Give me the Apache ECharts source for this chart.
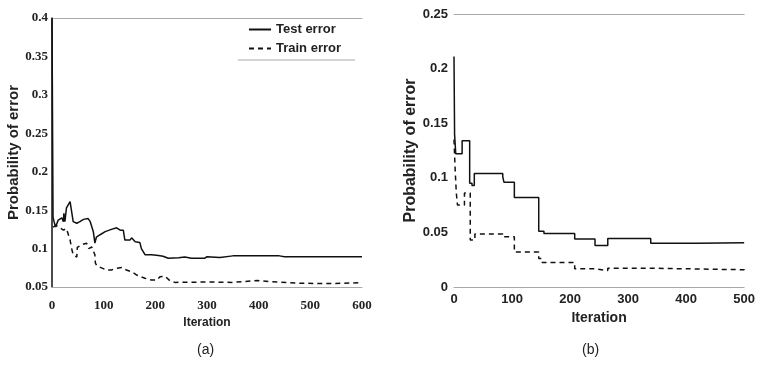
<!DOCTYPE html>
<html>
<head>
<meta charset="utf-8">
<script src="https://cdn.jsdelivr.net/npm/echarts@6/dist/echarts.min.js"></script>
<style>
  html, body { margin: 0; padding: 0; background: #fff; }
  #chart { width: 758px; height: 371px; }
</style>
</head>
<body>
<div id="chart"></div>
<script>
// (a) 左图数据: [iteration, probability]
const testA = [[0, 0.4], [2, 0.141], [4, 0.135], [7, 0.128], [12, 0.137], [19, 0.140], [22, 0.135],
  [23, 0.146], [25, 0.135], [28, 0.153], [35, 0.161], [38, 0.148], [41, 0.135], [48, 0.133],
  [54, 0.135], [61, 0.138], [70, 0.139], [74, 0.135], [80, 0.122], [83, 0.107], [86, 0.115],
  [93, 0.118], [103, 0.122], [115, 0.125], [125, 0.127], [132, 0.124], [138, 0.124], [141, 0.111],
  [151, 0.111], [154, 0.114], [161, 0.109], [170, 0.108], [173, 0.100], [180, 0.092], [193, 0.092],
  [206, 0.091], [215, 0.090], [225, 0.0874], [245, 0.088], [257, 0.089], [270, 0.0875], [296, 0.0875],
  [300, 0.0895], [325, 0.0885], [350, 0.0905], [440, 0.0905], [450, 0.0895], [600, 0.0895]];
const trainA = [[2, 0.128], [8, 0.130], [22, 0.124], [28, 0.126], [31, 0.124], [35, 0.111], [38, 0.100],
  [41, 0.092], [48, 0.089], [49, 0.1015], [57, 0.105], [67, 0.107], [71, 0.100], [77, 0.102],
  [83, 0.092], [84, 0.081], [87, 0.0774], [106, 0.072], [115, 0.0722], [125, 0.0744], [135, 0.0755],
  [144, 0.072], [154, 0.070], [164, 0.0656], [180, 0.0613], [193, 0.059], [203, 0.059], [209, 0.0634],
  [219, 0.064], [228, 0.0582], [238, 0.056], [300, 0.0565], [350, 0.056], [398, 0.0585], [420, 0.057],
  [480, 0.0548], [545, 0.0545], [600, 0.0555]];

// (b) 右图数据 (阶梯)
const testB = [[0, 0.211], [1, 0.14], [3, 0.122], [14, 0.134], [27, 0.095], [31, 0.093], [35, 0.104],
  [84, 0.101], [86, 0.096], [104, 0.082], [146, 0.051], [155, 0.049], [208, 0.044], [243, 0.038],
  [265, 0.0445], [339, 0.040], [420, 0.0405], [500, 0.041]];
const trainB = [[0, 0.135], [2, 0.107], [4, 0.086], [6, 0.075], [18, 0.086], [28, 0.043], [36, 0.0485],
  [84, 0.046], [104, 0.032], [146, 0.026], [152, 0.0225], [208, 0.0168], [243, 0.015], [265, 0.0172],
  [339, 0.0158], [500, 0.0165]];

const seriesNames = ['Test error', 'Train error'];

const serifLabel = { fontFamily: 'Liberation Serif', fontWeight: 'bold', fontSize: 13, color: '#222' };
const sansLabel = { fontFamily: 'Liberation Sans', fontWeight: 'bold', fontSize: 13, color: '#222' };
const nameStyle = { fontFamily: 'Liberation Sans', fontWeight: 'bold', color: '#222' };
const grayLine = { show: true, lineStyle: { color: '#aaa', width: 1 } };
const hidden = { show: false };

const chart = echarts.init(document.getElementById('chart'));

chart.setOption({
  animation: false,
  backgroundColor: '#fff',
  color: ['#111', '#111'],
  grid: [
    { left: 52, top: 18, width: 310, height: 269 },
    { left: 454, top: 14, width: 294, height: 273 },
  ],
  legend: {
    data: seriesNames,
    orient: 'vertical',
    left: 248,
    top: 23,
    padding: 0,
    itemWidth: 22,
    itemHeight: 14,
    itemGap: 6,
    itemStyle: { opacity: 0 },
    textStyle: { fontFamily: 'Liberation Sans', fontWeight: 'bold', fontSize: 13, color: '#222' },
  },
  xAxis: [
    {
      gridIndex: 0, type: 'value', min: 0, max: 600, interval: 100,
      name: 'Iteration', nameLocation: 'middle', nameGap: 29,
      nameTextStyle: { ...nameStyle, fontSize: 12 },
      axisLine: grayLine, axisTick: hidden, splitLine: hidden,
      axisLabel: { ...serifLabel, margin: 12 },
    },
    {
      gridIndex: 0, type: 'value', position: 'top', min: 0, max: 600,
      axisLine: grayLine, axisTick: hidden, splitLine: hidden, axisLabel: hidden,
    },
    {
      gridIndex: 1, type: 'value', min: 0, max: 500, interval: 100,
      name: 'Iteration', nameLocation: 'middle', nameGap: 22,
      nameTextStyle: { ...nameStyle, fontSize: 14 },
      axisLine: grayLine, axisTick: hidden, splitLine: hidden,
      axisLabel: { ...sansLabel, margin: 6 },
    },
    {
      gridIndex: 1, type: 'value', position: 'top', min: 0, max: 500,
      axisLine: grayLine, axisTick: hidden, splitLine: hidden, axisLabel: hidden,
    },
  ],
  yAxis: [
    {
      gridIndex: 0, type: 'value', min: 0.05, max: 0.4, interval: 0.05,
      name: 'Probability of error', nameLocation: 'middle', nameGap: 30,
      nameTextStyle: { ...nameStyle, fontSize: 15 },
      axisLine: { show: true, lineStyle: { color: '#111', width: 1.5 } },
      axisTick: hidden, splitLine: hidden,
      axisLabel: { ...serifLabel, margin: 4 },
    },
    {
      gridIndex: 1, type: 'value', min: 0, max: 0.25, interval: 0.05,
      name: 'Probability of error', nameLocation: 'middle', nameGap: 32,
      nameTextStyle: { ...nameStyle, fontSize: 16 },
      axisLine: hidden, axisTick: hidden, splitLine: hidden,
      axisLabel: { ...sansLabel, margin: 6 },
    },
  ],
  series: [
    {
      name: seriesNames[0], type: 'line', xAxisIndex: 0, yAxisIndex: 0,
      data: testA, symbol: 'none', lineStyle: { color: '#111', width: 1.5 },
    },
    {
      name: seriesNames[1], type: 'line', xAxisIndex: 0, yAxisIndex: 0,
      data: trainA, symbol: 'none', lineStyle: { color: '#111', width: 1.5, type: [5, 4] },
    },
    {
      name: seriesNames[0], type: 'line', xAxisIndex: 2, yAxisIndex: 1, step: 'end',
      data: testB, symbol: 'none', lineStyle: { color: '#111', width: 1.5 },
    },
    {
      name: seriesNames[1], type: 'line', xAxisIndex: 2, yAxisIndex: 1, step: 'end',
      data: trainB, symbol: 'none', lineStyle: { color: '#111', width: 1.5, type: [5, 4] },
    },
  ],
  graphic: [
    // 图例下边框
    { type: 'line', shape: { x1: 238, y1: 60, x2: 355, y2: 60 }, style: { stroke: '#aaa', lineWidth: 1 } },
    {
      type: 'text', left: 197, top: 343,
      style: { text: '(a)', font: '14px "Liberation Sans"', fill: '#222' },
    },
    {
      type: 'text', left: 582, top: 343,
      style: { text: '(b)', font: '14px "Liberation Sans"', fill: '#222' },
    },
  ],
});
</script>
</body>
</html>
